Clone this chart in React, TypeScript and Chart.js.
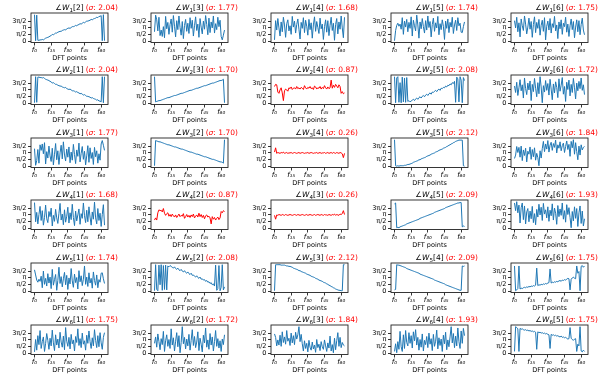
import React, { useEffect, useRef } from 'react';
import { Chart, registerables } from 'chart.js';

Chart.register(...registerables);

// ---- tick definitions ----
const xTickValues = [0, 15, 30, 45, 60];
const xTickLabels = ['f₀', 'f₁₅', 'f₃₀', 'f₄₅', 'f₆₀'];
const yTickValues = [0, Math.PI / 2, Math.PI, (3 * Math.PI) / 2];
const yTickLabels = ['0', 'π/2', 'π', '3π/2'];

// ---- grid of panels: row i, columns j != i ----
const rowIndices = [1, 2, 3, 4, 5, 6];
const sigmaValues = [
  [2.04, 1.77, 1.68, 1.74, 1.75],
  [2.04, 1.70, 0.87, 2.08, 1.72],
  [1.77, 1.70, 0.26, 2.12, 1.84],
  [1.68, 0.87, 0.26, 2.09, 1.93],
  [1.74, 2.08, 2.12, 2.09, 1.75],
  [1.75, 1.72, 1.84, 1.93, 1.75],
];

// ---- phase values (radians) per DFT point ----
const phaseW1_2 = [
  6.2, 0.1, 6.1, 0.2, 0.2, 0.3, 0.3, 0.4, 0.3, 0.5, 0.7, 0.8, 0.9, 1.0, 1.2, 1.3,
  1.6, 1.5, 1.7, 1.9, 1.9, 2.1, 2.2, 2.3, 2.3, 2.5, 2.6, 2.7, 2.6, 2.9, 3.0, 3.1,
  3.0, 3.2, 3.4, 3.4, 3.5, 3.7, 3.6, 3.8, 3.9, 4.1, 4.0, 4.2, 4.4, 4.3, 4.5, 4.7,
  4.7, 4.8, 4.9, 5.1, 5.0, 5.2, 5.3, 5.4, 5.6, 5.5, 5.8, 5.8, 6.0, 0.1, 6.2, 0.1,
];
const phaseW1_3 = [
  2.2, 6.1, 5.0, 2.4, 5.6, 1.3, 2.6, 1.1, 3.4, 0.8, 5.8, 2.9, 4.4, 1.6, 3.9, 5.2,
  2.1, 6.0, 3.5, 1.0, 4.8, 2.7, 5.9, 3.2, 1.4, 4.6, 0.6, 3.7, 5.1, 2.3, 4.2, 1.8,
  5.5, 3.0, 4.9, 1.2, 3.6, 5.7, 2.5, 4.0, 0.9, 5.3, 3.3, 1.7, 4.7, 2.8, 6.0, 3.9,
  1.5, 5.4, 2.0, 4.5, 3.1, 5.9, 1.9, 4.1, 2.7, 5.6, 3.4, 4.9, 1.1, 0.3, 1.4, 2.6,
];
const phaseW1_4 = [
  0.3, 4.8, 2.6, 5.3, 3.1, 1.2, 4.5, 2.2, 5.6, 3.8, 0.9, 4.1, 5.0, 2.4, 3.6, 1.6,
  5.8, 3.3, 4.7, 1.9, 3.9, 5.2, 2.8, 0.5, 4.4, 3.0, 5.5, 2.0, 4.9, 3.5, 1.4, 5.1,
  2.7, 4.3, 0.7, 3.8, 5.7, 2.3, 4.6, 3.2, 1.8, 5.4, 2.9, 4.0, 0.4, 3.4, 5.0, 2.1,
  4.8, 1.3, 3.7, 5.6, 2.5, 4.2, 0.2, 3.9, 5.3, 1.7, 4.5, 2.8, 5.9, 3.1, 0.8, 5.6,
];
const phaseW1_5 = [
  0.1, 2.5, 3.7, 4.2, 3.5, 4.0, 2.8, 5.5, 1.6, 4.7, 3.3, 5.1, 2.2, 4.4, 3.0, 5.7,
  1.2, 4.9, 3.6, 2.4, 6.1, 3.8, 0.7, 4.5, 2.9, 5.3, 3.4, 1.9, 4.8, 2.6, 5.9, 3.2,
  4.6, 1.0, 3.9, 5.4, 2.3, 4.3, 3.1, 5.8, 1.5, 4.1, 2.7, 5.0, 3.5, 0.4, 4.7, 3.0,
  5.2, 2.0, 4.4, 3.3, 5.6, 1.8, 3.8, 4.9, 2.5, 5.5, 3.6, 4.2, 2.1, 2.0, 3.4, 4.5,
];
const phaseW1_6 = [
  4.8, 3.1, 5.6, 2.2, 4.3, 1.0, 5.2, 3.6, 2.5, 5.9, 4.0, 1.7, 3.3, 5.4, 2.8, 4.6,
  0.9, 3.9, 5.7, 2.0, 4.4, 3.0, 5.1, 1.4, 3.7, 4.9, 2.3, 5.5, 0.3, 3.5, 4.7, 2.6,
  5.3, 1.9, 4.1, 3.2, 5.8, 2.4, 3.8, 0.6, 4.5, 2.9, 5.0, 1.6, 4.2, 3.4, 5.6, 2.1,
  4.0, 1.1, 3.6, 5.2, 2.7, 4.6, 0.8, 3.3, 5.0, 2.2, 4.8, 1.5, 3.9, 5.4, 2.6, 1.5,
];
const phaseW2_1 = [
  0.1, 6.2, 0.2, 6.1, 6.1, 6.0, 6.0, 5.9, 6.0, 5.8, 5.6, 5.5, 5.4, 5.3, 5.1, 5.0,
  4.7, 4.8, 4.6, 4.4, 4.4, 4.2, 4.1, 4.0, 4.0, 3.8, 3.7, 3.6, 3.7, 3.4, 3.3, 3.2,
  3.3, 3.1, 2.9, 2.9, 2.8, 2.6, 2.7, 2.5, 2.4, 2.2, 2.3, 2.1, 1.9, 2.0, 1.8, 1.6,
  1.6, 1.5, 1.4, 1.2, 1.3, 1.1, 1.0, 0.9, 0.7, 0.8, 0.5, 0.5, 0.3, 6.2, 0.1, 6.2,
];
const phaseW2_3 = [
  6.2, 0.3, 0.4, 0.5, 0.6, 0.6, 0.7, 0.8, 0.9, 1.0, 1.1, 1.2, 1.3, 1.3, 1.4, 1.5,
  1.6, 1.7, 1.8, 1.8, 1.9, 2.0, 2.1, 2.2, 2.3, 2.3, 2.4, 2.5, 2.6, 2.7, 2.8, 2.9,
  3.0, 3.0, 3.1, 3.2, 3.3, 3.4, 3.5, 3.5, 3.6, 3.7, 3.8, 3.9, 4.0, 4.1, 4.1, 4.2,
  4.3, 4.4, 4.5, 4.6, 4.7, 4.7, 4.8, 4.9, 5.0, 5.1, 5.2, 5.3, 5.3, 5.4, 5.6, 0.1,
];
const phaseW2_4 = [
  3.9, 4.4, 4.3, 2.6, 2.3, 3.1, 3.6, 2.4, 0.6, 2.9, 3.3, 3.1, 2.8, 3.6, 3.4, 3.8,
  3.2, 3.5, 3.6, 3.3, 3.9, 3.4, 3.6, 3.3, 3.7, 3.5, 3.2, 4.1, 3.6, 3.3, 3.7, 3.5,
  3.9, 3.4, 3.6, 3.2, 4.0, 3.8, 3.3, 3.6, 3.5, 3.9, 3.3, 3.7, 3.4, 4.1, 3.6, 3.3,
  3.8, 3.4, 3.6, 5.4, 3.5, 4.2, 3.7, 4.4, 4.0, 3.6, 4.3, 3.9, 2.3, 2.7, 2.2, 2.4,
];
const phaseW2_5 = [
  6.2, 0.1, 5.9, 6.2, 0.2, 4.8, 0.1, 6.1, 0.3, 5.9, 0.2, 6.0, 0.4, 0.6, 0.3, 0.5,
  0.7, 0.9, 0.6, 1.0, 1.2, 0.9, 1.3, 1.5, 1.2, 1.6, 1.8, 1.5, 1.9, 2.1, 1.8, 2.2,
  2.4, 2.1, 2.6, 2.5, 2.8, 3.0, 2.7, 3.1, 3.3, 3.0, 3.5, 3.4, 3.7, 3.6, 4.0, 3.8,
  4.2, 4.1, 4.5, 4.3, 4.8, 4.6, 5.1, 0.2, 6.1, 5.7, 0.3, 6.2, 5.4, 0.1, 6.0, 5.3,
];
const phaseW2_6 = [
  4.0, 2.5, 4.9, 1.8, 3.6, 5.5, 2.9, 4.3, 1.2, 5.9, 3.4, 2.0, 4.7, 3.1, 5.2, 0.6,
  4.4, 2.7, 5.8, 3.5, 1.5, 4.8, 2.2, 6.2, 3.8, 0.1, 4.1, 2.6, 5.3, 3.0, 4.6, 1.9,
  5.6, 3.3, 0.8, 4.5, 2.4, 5.0, 3.7, 1.3, 5.7, 2.8, 4.2, 6.0, 2.1, 3.9, 0.4, 4.9,
  3.2, 5.4, 1.7, 4.4, 2.5, 5.8, 3.6, 1.0, 4.7, 2.9, 5.1, 3.4, 5.9, 3.0, 4.3, 2.0,
];
const phaseW3_1 = [
  4.1, 0.2, 1.3, 3.9, 0.7, 5.0, 3.7, 5.2, 2.9, 5.5, 0.5, 3.4, 1.9, 4.7, 2.4, 1.1,
  4.2, 0.3, 2.8, 5.3, 1.5, 3.6, 0.4, 3.1, 4.9, 1.7, 5.7, 2.6, 1.2, 4.0, 2.1, 4.5,
  0.8, 3.3, 1.4, 5.1, 2.7, 0.6, 3.8, 2.3, 5.4, 1.0, 3.0, 4.6, 1.6, 3.5, 0.3, 2.4,
  4.8, 0.9, 4.3, 1.8, 3.2, 0.4, 4.4, 2.2, 3.6, 0.7, 2.9, 1.4, 5.2, 6.0, 4.9, 3.7,
];
const phaseW3_2 = [
  0.1, 6.0, 5.9, 5.8, 5.7, 5.7, 5.6, 5.5, 5.4, 5.3, 5.2, 5.1, 5.0, 5.0, 4.9, 4.8,
  4.7, 4.6, 4.5, 4.5, 4.4, 4.3, 4.2, 4.1, 4.0, 4.0, 3.9, 3.8, 3.7, 3.6, 3.5, 3.4,
  3.3, 3.3, 3.2, 3.1, 3.0, 2.9, 2.8, 2.8, 2.7, 2.6, 2.5, 2.4, 2.3, 2.2, 2.2, 2.1,
  2.0, 1.9, 1.8, 1.7, 1.6, 1.6, 1.5, 1.4, 1.3, 1.2, 1.1, 1.0, 1.0, 0.9, 0.7, 6.2,
];
const phaseW3_4 = [
  3.3, 4.3, 3.0, 3.2, 3.1, 3.0, 3.2, 3.1, 3.3, 3.0, 3.1, 3.2, 3.0, 3.1, 3.1, 3.2,
  3.0, 3.1, 3.2, 3.1, 3.0, 3.1, 3.2, 3.0, 3.1, 3.2, 3.1, 3.0, 3.1, 3.1, 3.2, 3.0,
  3.1, 3.2, 3.1, 3.0, 3.1, 3.1, 3.2, 3.0, 3.1, 3.2, 3.0, 3.1, 3.1, 3.2, 3.0, 3.1,
  3.2, 3.0, 3.1, 3.2, 3.0, 3.2, 3.1, 3.0, 3.2, 3.1, 3.0, 3.2, 3.1, 2.9, 2.0, 3.0,
];
const phaseW3_5 = [
  6.2, 0.1, 0.0, 0.1, 0.0, 0.1, 0.1, 0.1, 0.1, 0.2, 0.2, 0.3, 0.4, 0.4, 0.5, 0.6,
  0.7, 0.9, 1.0, 1.1, 1.2, 1.3, 1.5, 1.5, 1.7, 1.8, 1.9, 2.0, 2.1, 2.3, 2.4, 2.5,
  2.6, 2.8, 2.9, 3.0, 3.1, 3.3, 3.4, 3.5, 3.7, 3.8, 3.9, 4.0, 4.2, 4.3, 4.4, 4.6,
  4.7, 4.9, 5.0, 5.2, 5.3, 5.5, 5.6, 5.8, 5.9, 6.0, 6.1, 6.1, 6.1, 6.1, 0.1, 0.0,
];
const phaseW3_6 = [
  1.8, 2.6, 4.6, 3.2, 4.4, 2.1, 4.7, 1.3, 3.8, 2.5, 4.2, 1.0, 3.5, 2.8, 4.5, 1.6,
  3.9, 2.2, 4.3, 1.4, 3.0, 2.0, 0.1, 3.6, 1.9, 4.1, 5.8, 3.4, 5.2, 4.0, 6.0, 3.3,
  4.9, 5.6, 3.7, 5.3, 4.4, 6.1, 3.1, 5.0, 4.2, 5.7, 3.6, 4.8, 5.4, 3.2, 4.6, 5.9,
  3.9, 5.1, 2.3, 5.8, 4.3, 6.2, 2.8, 5.5, 3.4, 1.5, 4.7, 2.6, 5.0, 3.8, 4.4, 4.6,
];
const phaseW4_1 = [
  6.0, 1.5, 3.7, 1.0, 3.2, 5.1, 1.8, 4.1, 0.7, 2.5, 5.4, 2.2, 1.3, 3.9, 2.7, 4.7,
  0.5, 3.0, 1.6, 4.4, 2.4, 1.1, 3.5, 5.8, 1.9, 3.3, 0.8, 4.3, 1.4, 2.8, 4.9, 1.2,
  3.6, 2.0, 5.6, 2.5, 0.6, 4.0, 1.7, 3.1, 4.5, 0.9, 3.4, 2.3, 5.9, 2.9, 1.3, 4.2,
  1.5, 5.0, 2.6, 0.7, 3.8, 2.1, 6.1, 2.4, 1.0, 4.6, 1.8, 3.5, 0.4, 3.2, 5.5, 0.7,
];
const phaseW4_2 = [
  1.9, 2.4, 1.9, 3.6, 4.3, 4.1, 4.2, 3.8, 4.6, 3.5, 3.0, 3.4, 3.6, 2.8, 3.2, 2.7,
  3.3, 2.9, 2.6, 3.1, 2.5, 2.9, 3.3, 2.7, 3.0, 2.8, 3.4, 2.3, 2.7, 3.2, 2.6, 3.0,
  2.5, 3.1, 2.7, 3.3, 2.4, 2.8, 3.1, 2.6, 3.5, 2.7, 3.2, 2.5, 3.0, 2.2, 2.9, 3.1,
  2.6, 2.8, 2.4, 1.0, 2.7, 2.1, 2.5, 1.9, 2.3, 2.6, 2.0, 2.4, 3.9, 3.6, 4.1, 3.9,
];
const phaseW4_3 = [
  3.0, 2.1, 3.1, 3.0, 3.2, 3.1, 3.0, 3.2, 3.1, 3.0, 3.2, 3.1, 3.0, 3.1, 3.2, 3.1,
  3.0, 3.1, 3.2, 3.1, 3.0, 3.2, 3.1, 3.0, 3.1, 3.2, 3.1, 3.0, 3.1, 3.2, 3.0, 3.1,
  3.2, 3.1, 3.0, 3.1, 3.2, 3.0, 3.1, 3.2, 3.1, 3.0, 3.2, 3.1, 3.0, 3.2, 3.1, 3.1,
  3.0, 3.2, 3.1, 3.0, 3.2, 3.1, 3.3, 3.0, 3.2, 3.1, 3.0, 3.3, 3.2, 3.4, 4.1, 3.2,
];
const phaseW4_5 = [
  5.7, 5.9, 0.1, 0.2, 0.1, 0.3, 0.4, 0.5, 0.6, 0.7, 0.8, 1.0, 1.1, 1.2, 1.3, 1.4,
  1.5, 1.6, 1.7, 1.8, 1.9, 2.0, 2.1, 2.3, 2.4, 2.5, 2.6, 2.7, 2.8, 2.9, 3.0, 3.1,
  3.2, 3.3, 3.4, 3.5, 3.7, 3.8, 3.9, 4.0, 4.1, 4.2, 4.3, 4.4, 4.5, 4.6, 4.8, 4.9,
  5.0, 5.1, 5.2, 5.3, 5.4, 5.5, 5.6, 5.7, 5.8, 5.9, 5.9, 6.0, 6.0, 0.3, 0.5, 0.4,
];
const phaseW4_6 = [
  5.9, 4.1, 6.2, 3.6, 5.4, 1.2, 4.8, 5.9, 2.0, 5.2, 1.0, 3.8, 4.6, 1.5, 4.0, 2.2,
  5.1, 1.3, 3.4, 0.8, 4.4, 2.6, 5.6, 3.1, 4.9, 1.8, 5.8, 3.3, 4.3, 2.4, 5.0, 1.6,
  4.2, 2.9, 5.7, 1.9, 4.7, 3.5, 0.9, 5.3, 2.7, 4.5, 3.0, 5.9, 2.1, 4.1, 1.4, 5.5,
  3.2, 4.8, 2.5, 0.1, 3.9, 1.7, 5.0, 2.3, 4.6, 0.4, 3.6, 5.2, 1.1, 4.0, 0.5, 2.2,
];
const phaseW5_1 = [
  5.0, 3.8, 2.6, 2.1, 2.8, 2.3, 3.5, 0.8, 4.7, 1.6, 3.0, 1.2, 4.1, 1.9, 3.3, 0.6,
  5.1, 1.4, 2.7, 3.9, 0.2, 2.5, 5.6, 1.8, 3.4, 1.0, 2.9, 4.4, 1.5, 3.7, 0.4, 3.1,
  1.7, 5.3, 2.4, 0.9, 4.0, 2.0, 3.2, 0.5, 4.8, 2.2, 3.6, 1.3, 2.8, 5.9, 1.6, 3.3,
  1.1, 4.3, 1.9, 3.0, 0.7, 4.5, 2.5, 1.4, 3.8, 0.8, 2.7, 2.1, 4.2, 4.3, 2.9, 1.8,
];
const phaseW5_2 = [
  0.1, 6.2, 0.4, 0.1, 6.1, 1.5, 6.2, 0.2, 6.0, 0.4, 6.1, 0.3, 5.9, 5.7, 6.0, 5.8,
  5.6, 5.4, 5.7, 5.3, 5.1, 5.4, 5.0, 4.8, 5.1, 4.7, 4.5, 4.8, 4.4, 4.2, 4.5, 4.1,
  3.9, 4.2, 3.7, 3.8, 3.5, 3.3, 3.6, 3.2, 3.0, 3.3, 2.8, 2.9, 2.6, 2.7, 2.3, 2.5,
  2.1, 2.2, 1.8, 2.0, 1.5, 1.7, 1.2, 6.1, 0.2, 0.6, 6.0, 0.1, 0.9, 6.2, 0.3, 1.0,
];
const phaseW5_3 = [
  0.1, 6.2, 6.2, 6.2, 6.2, 6.2, 6.1, 6.1, 6.1, 6.1, 6.0, 5.9, 5.9, 5.8, 5.8, 5.7,
  5.6, 5.4, 5.3, 5.2, 5.1, 5.0, 4.8, 4.8, 4.6, 4.5, 4.4, 4.3, 4.2, 4.0, 3.9, 3.8,
  3.7, 3.5, 3.4, 3.3, 3.2, 3.0, 2.9, 2.8, 2.6, 2.5, 2.4, 2.3, 2.1, 2.0, 1.9, 1.7,
  1.6, 1.4, 1.3, 1.1, 1.0, 0.8, 0.7, 0.5, 0.4, 0.3, 0.2, 0.2, 0.1, 0.1, 6.2, 6.2,
];
const phaseW5_4 = [
  0.3, 0.4, 6.2, 6.1, 6.1, 6.0, 5.9, 5.8, 5.7, 5.6, 5.5, 5.3, 5.2, 5.1, 5.0, 4.9,
  4.8, 4.7, 4.6, 4.5, 4.4, 4.3, 4.2, 4.0, 3.9, 3.8, 3.7, 3.6, 3.5, 3.4, 3.3, 3.2,
  3.1, 3.0, 2.9, 2.8, 2.6, 2.5, 2.4, 2.3, 2.2, 2.1, 2.0, 1.9, 1.8, 1.7, 1.5, 1.4,
  1.3, 1.2, 1.1, 1.0, 0.9, 0.8, 0.7, 0.6, 0.5, 0.4, 0.3, 0.2, 0.2, 5.9, 5.8, 5.9,
];
const phaseW5_6 = [
  5.9, 0.1, 0.3, 0.6, 5.9, 0.5, 0.7, 0.6, 0.8, 0.9, 0.8, 1.0, 0.9, 1.1, 1.0, 1.2,
  1.1, 1.3, 1.2, 1.4, 5.4, 1.3, 1.5, 1.4, 1.6, 1.5, 1.7, 1.6, 1.8, 1.7, 1.9, 2.0,
  5.2, 1.9, 2.1, 2.0, 2.2, 2.1, 2.3, 2.2, 2.4, 2.5, 2.3, 2.6, 2.5, 2.7, 2.6, 2.8,
  3.0, 2.9, 0.3, 2.8, 3.1, 3.3, 3.0, 2.9, 5.9, 4.2, 4.6, 0.1, 5.8, 6.0, 5.6, 5.9,
];
const phaseW6_1 = [
  0.3, 3.2, 0.7, 4.1, 2.0, 5.3, 1.1, 2.7, 3.8, 0.4, 2.3, 4.6, 3.0, 0.9, 3.5, 1.7,
  5.4, 2.4, 0.6, 4.3, 1.9, 3.3, 1.2, 4.9, 2.6, 1.4, 4.0, 0.8, 6.0, 2.8, 1.6, 3.7,
  1.0, 4.4, 2.2, 3.1, 0.5, 3.9, 2.5, 5.7, 1.8, 3.4, 1.3, 4.7, 2.1, 2.9, 0.7, 4.2,
  2.3, 5.2, 2.7, 1.1, 3.6, 1.7, 5.5, 3.0, 1.3, 4.1, 1.5, 4.8, 2.4, 0.9, 3.7, 4.8,
];
const phaseW6_2 = [
  2.3, 3.8, 1.4, 4.5, 2.7, 0.8, 3.4, 2.0, 5.1, 0.4, 2.9, 4.3, 1.6, 3.2, 1.1, 5.7,
  1.9, 3.6, 0.5, 2.8, 4.8, 1.5, 4.1, 0.1, 2.5, 6.2, 2.2, 3.7, 1.0, 3.3, 1.7, 4.4,
  0.7, 3.0, 5.5, 1.8, 3.9, 1.3, 2.6, 5.0, 0.6, 3.5, 2.1, 0.3, 4.2, 2.4, 5.9, 1.4,
  3.1, 0.9, 4.6, 1.9, 3.8, 0.5, 2.7, 5.3, 1.6, 3.4, 1.2, 2.9, 0.4, 3.3, 2.0, 4.3,
];
const phaseW6_3 = [
  4.5, 3.7, 1.7, 3.1, 1.9, 4.2, 1.6, 5.0, 2.5, 3.8, 2.1, 5.3, 2.8, 3.5, 1.8, 4.7,
  2.4, 4.1, 2.0, 4.9, 3.3, 4.3, 6.2, 2.7, 4.4, 2.2, 0.5, 2.9, 1.1, 2.3, 0.3, 3.0,
  1.4, 0.7, 2.6, 1.0, 1.9, 0.2, 3.2, 1.3, 2.1, 0.6, 2.7, 1.5, 0.9, 3.1, 1.7, 0.4,
  2.4, 1.2, 4.0, 0.5, 2.0, 0.1, 3.5, 0.8, 2.9, 4.8, 1.6, 3.7, 1.3, 2.5, 1.9, 1.7,
];
const phaseW6_4 = [
  0.4, 2.2, 0.1, 2.7, 0.9, 5.1, 1.5, 0.4, 4.3, 1.1, 5.3, 2.5, 1.7, 4.8, 2.3, 4.1,
  1.2, 5.0, 2.9, 5.5, 1.9, 3.7, 0.7, 3.2, 1.4, 4.5, 0.5, 3.0, 2.0, 3.9, 1.3, 4.7,
  2.1, 3.4, 0.6, 4.4, 1.6, 2.8, 5.4, 1.0, 3.6, 1.8, 3.3, 0.4, 4.2, 2.2, 4.9, 0.8,
  3.1, 1.5, 3.8, 6.2, 2.4, 4.6, 1.3, 4.0, 1.7, 5.9, 2.7, 1.1, 5.2, 2.3, 5.8, 4.1,
];
const phaseW6_5 = [
  0.4, 6.2, 6.0, 5.7, 0.4, 5.8, 5.6, 5.7, 5.5, 5.4, 5.5, 5.3, 5.4, 5.2, 5.3, 5.1,
  5.2, 5.0, 5.1, 4.9, 0.9, 5.0, 4.8, 4.9, 4.7, 4.8, 4.6, 4.7, 4.5, 4.6, 4.4, 4.3,
  1.1, 4.4, 4.2, 4.3, 4.1, 4.2, 4.0, 4.1, 3.9, 3.8, 4.0, 3.7, 3.8, 3.6, 3.7, 3.5,
  3.3, 3.4, 6.0, 3.5, 3.2, 3.0, 3.3, 3.4, 0.4, 2.1, 1.7, 6.2, 0.5, 0.3, 0.7, 0.4,
];

const phaseGrid = [
  [phaseW1_2, phaseW1_3, phaseW1_4, phaseW1_5, phaseW1_6],
  [phaseW2_1, phaseW2_3, phaseW2_4, phaseW2_5, phaseW2_6],
  [phaseW3_1, phaseW3_2, phaseW3_4, phaseW3_5, phaseW3_6],
  [phaseW4_1, phaseW4_2, phaseW4_3, phaseW4_5, phaseW4_6],
  [phaseW5_1, phaseW5_2, phaseW5_3, phaseW5_4, phaseW5_6],
  [phaseW6_1, phaseW6_2, phaseW6_3, phaseW6_4, phaseW6_5],
];

// ---- layout constants ----
const CELL_W = 120;
const CELL_H = 62;
const ROW_STEP = 62.4;
const FRAME_LEFT = 31;
const FRAME_W = 77;
const FRAME_TOP = 13;
const FONT = "'DejaVu Sans', sans-serif";

const framePlugin = {
  id: 'frameBox',
  afterDraw(chart: any) {
    const { ctx, chartArea } = chart;
    ctx.save();
    ctx.strokeStyle = '#222';
    ctx.lineWidth = 0.9;
    ctx.strokeRect(chartArea.left, chartArea.top, chartArea.right - chartArea.left, chartArea.bottom - chartArea.top);
    ctx.restore();
  },
};

function Panel({ values, color }: { values: number[]; color: string }) {
  const ref = useRef<HTMLCanvasElement | null>(null);
  useEffect(() => {
    if (!ref.current) return;
    const chart = new Chart(ref.current, {
      type: 'line',
      data: {
        datasets: [
          {
            data: values.map((v, k) => ({ x: k, y: v })),
            borderColor: color,
            borderWidth: 1,
            pointRadius: 0,
            tension: 0,
            fill: false,
          },
        ],
      },
      options: {
        responsive: false,
        animation: false,
        devicePixelRatio: 1,
        layout: { padding: { left: 0, right: CELL_W - FRAME_LEFT - FRAME_W, top: FRAME_TOP, bottom: 0 } },
        plugins: { legend: { display: false }, tooltip: { enabled: false }, title: { display: false } },
        scales: {
          x: {
            type: 'linear',
            min: -3.15,
            max: 66.15,
            afterBuildTicks: (s: any) => {
              s.ticks = xTickValues.map((v) => ({ value: v }));
            },
            afterFit: (s: any) => {
              s.height = 19.5;
            },
            ticks: {
              autoSkip: false,
              maxRotation: 0,
              padding: 0,
              color: '#000',
              font: { family: FONT, size: 7, style: 'italic' },
              callback: (_v: any, idx: number) => xTickLabels[idx],
            },
            grid: { drawOnChartArea: false, drawTicks: true, tickLength: 3, color: '#000', lineWidth: 0.8 },
            border: { display: false },
            title: { display: true, text: 'DFT points', color: '#000', padding: 0, font: { family: FONT, size: 6.5 } },
          },
          y: {
            type: 'linear',
            min: -0.314,
            max: 6.597,
            afterBuildTicks: (s: any) => {
              s.ticks = yTickValues.map((v) => ({ value: v }));
            },
            afterFit: (s: any) => {
              s.width = FRAME_LEFT;
            },
            ticks: {
              autoSkip: false,
              padding: 1.5,
              color: '#000',
              font: { family: FONT, size: 6.5 },
              callback: (_v: any, idx: number) => yTickLabels[idx],
            },
            grid: { drawOnChartArea: false, drawTicks: true, tickLength: 3, color: '#000', lineWidth: 0.8 },
            border: { display: false },
          },
        },
      },
      plugins: [framePlugin],
    } as any);
    return () => chart.destroy();
  }, [values, color]);
  return <canvas ref={ref} width={CELL_W} height={CELL_H} style={{ display: 'block', width: CELL_W, height: CELL_H }} />;
}

function Title({ i, j, sigma }: { i: number; j: number; sigma: number }) {
  return (
    <div
      style={{
        position: 'absolute',
        left: FRAME_LEFT + FRAME_W / 2,
        top: 3,
        transform: 'translateX(-50%)',
        fontFamily: FONT,
        fontSize: 7.5,
        lineHeight: '9px',
        whiteSpace: 'nowrap',
        color: '#000',
      }}
    >
      ∠<i>W</i>
      <sub style={{ fontSize: 5.5, lineHeight: 0, verticalAlign: '-1.5px' }}>{i}</sub>[{j}]
      <span style={{ position: 'absolute', left: '100%', top: 0, paddingLeft: 2, color: '#ff0000' }}>
        (<i>σ</i>: {sigma.toFixed(2)})
      </span>
    </div>
  );
}

export default function App() {
  return (
    <div style={{ position: 'absolute', left: 0, top: 0, width: 608, height: 383, background: '#fff', overflow: 'hidden' }}>
      {rowIndices.map((i, r) => {
        const cols = rowIndices.filter((j) => j !== i);
        return cols.map((j, c) => {
          const sigma = sigmaValues[r][c];
          const color = sigma < 1 ? '#ff0000' : '#1f77b4';
          return (
            <div
              key={`${i}-${j}`}
              style={{ position: 'absolute', left: c * CELL_W, top: Math.round(r * ROW_STEP), width: CELL_W, height: CELL_H }}
            >
              <Panel values={phaseGrid[r][c]} color={color} />
              <Title i={i} j={j} sigma={sigma} />
            </div>
          );
        });
      })}
    </div>
  );
}
